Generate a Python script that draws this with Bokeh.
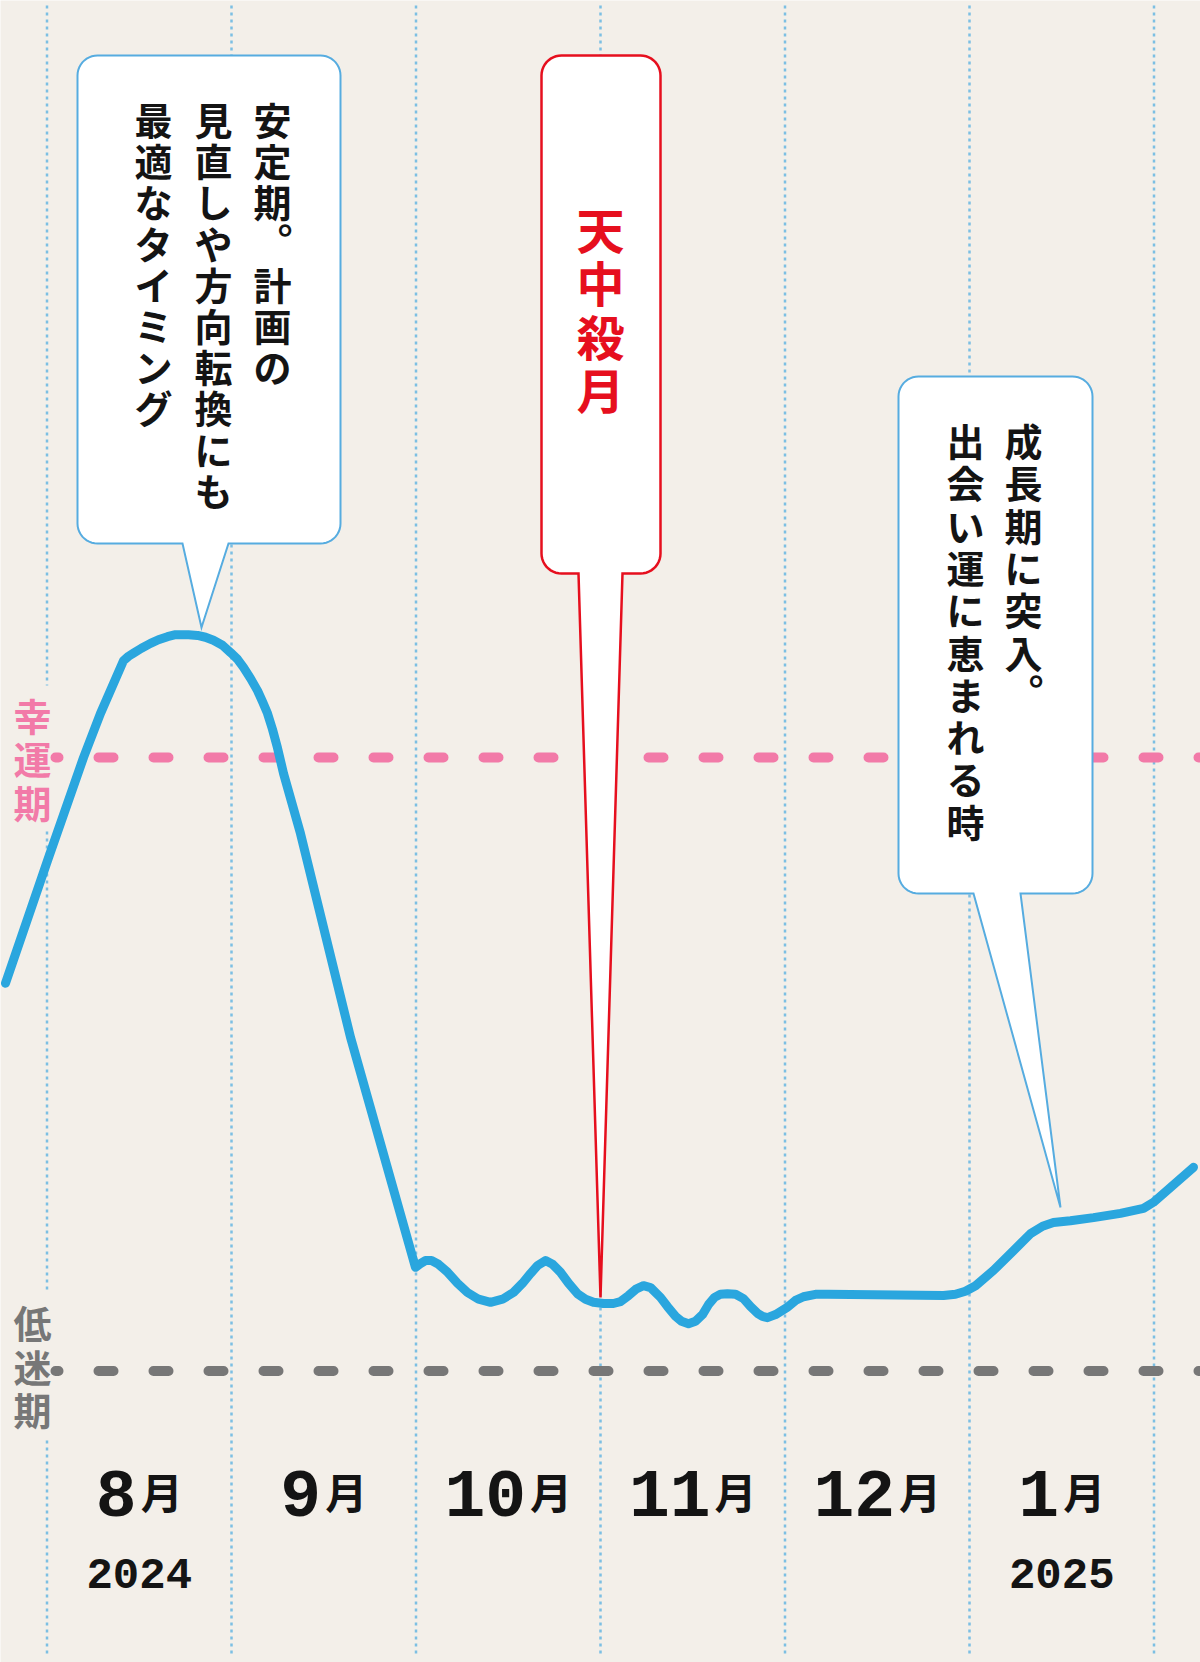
import numpy as np
from bokeh.plotting import figure
from bokeh.models import Range1d
from bokeh.core.properties import value
from bokeh.embed import file_html
from bokeh.resources import INLINE

# ---------------- data ----------------
month_numbers = ["8", "9", "10", "11", "12", "1"]
month_suffix = "月"
year_labels = ["2024", "2025"]
year_month_index = [0, 5]

level_names = ["幸運期", "低迷期"]
level_values = [1.0, 0.0]

# fortune curve: x = month position (8月 = 0), y = fortune level (低迷期 = 0, 幸運期 = 1)
fortune_x = [-0.725, -0.497, -0.302, -0.210, -0.085, -0.058, -0.031, 0.012, 0.061, 0.104,
             0.153, 0.191, 0.224, 0.267, 0.316, 0.359, 0.402, 0.451, 0.495, 0.533,
             0.565, 0.603, 0.641, 0.668, 0.695, 0.722, 0.749, 0.782, 0.874, 1.145,
             1.497, 1.524, 1.551, 1.584, 1.622, 1.671, 1.725, 1.779, 1.839, 1.904,
             1.969, 2.028, 2.077, 2.121, 2.159, 2.202, 2.240, 2.283, 2.327, 2.375,
             2.419, 2.462, 2.516, 2.570, 2.608, 2.652, 2.695, 2.733, 2.771, 2.825,
             2.863, 2.907, 2.939, 2.977, 3.015, 3.053, 3.085, 3.118, 3.150, 3.188,
             3.232, 3.275, 3.313, 3.351, 3.378, 3.405, 3.449, 3.514, 3.557, 3.600,
             3.665, 3.730, 4.359, 4.424, 4.478, 4.533, 4.630, 4.738, 4.831, 4.896,
             4.955, 5.047, 5.172, 5.318, 5.443, 5.497, 5.714]
fortune_y = [0.632, 0.832, 1.000, 1.072, 1.158, 1.165, 1.170, 1.178, 1.186, 1.192,
             1.197, 1.200, 1.200, 1.200, 1.199, 1.196, 1.191, 1.183, 1.171, 1.160,
             1.147, 1.129, 1.109, 1.091, 1.072, 1.046, 1.016, 0.974, 0.876, 0.544,
             0.169, 0.175, 0.180, 0.180, 0.174, 0.161, 0.143, 0.128, 0.117, 0.112,
             0.117, 0.128, 0.143, 0.159, 0.172, 0.180, 0.174, 0.161, 0.143, 0.126,
             0.117, 0.112, 0.110, 0.110, 0.113, 0.123, 0.134, 0.139, 0.136, 0.120,
             0.105, 0.089, 0.081, 0.077, 0.081, 0.092, 0.108, 0.120, 0.125, 0.126,
             0.125, 0.118, 0.105, 0.094, 0.089, 0.087, 0.092, 0.104, 0.115, 0.121,
             0.125, 0.125, 0.123, 0.125, 0.130, 0.139, 0.164, 0.196, 0.224, 0.236,
             0.242, 0.245, 0.250, 0.257, 0.265, 0.275, 0.332]

callout_columns = [
    ["安定期。計画の", "見直しや方向転換にも", "最適なタイミング"],
    ["天中殺月"],
    ["成長期に突入。", "出会い運に恵まれる時"],
]

# ---------------- layout (pixels) ----------------
W, H = 1200, 1662
X0, XS = 138.75, 184.5      # pixel of month 0, pixels per month
Y0, YS = 1370.5, 613.5      # pixel of level 0, pixels per level unit


def DX(px):
    return (px - X0) / XS


def DY(py):
    return (Y0 - py) / YS


def PX(x):
    return X0 + XS * x


def PY(y):
    return Y0 - YS * y


BG = "#f3efe9"
BLUE_LINE = "#2aa6de"
DOT_BLUE = "#7cbfe3"
PINK = "#f27aa8"
GRAY = "#777777"
RED = "#e60f1e"
BOX_BLUE = "#56ace0"
INK = "#141414"
JP = value("Noto Sans CJK JP")
MONO = value("Liberation Mono")

p = figure(width=W, height=H, x_range=Range1d(DX(0), DX(W)), y_range=Range1d(DY(H), DY(0)),
           output_backend="svg", toolbar_location=None, x_axis_location=None,
           y_axis_location=None, min_border=0, background_fill_color=BG,
           border_fill_color=BG, outline_line_color=None)
p.grid.visible = False

# vertical dotted month separators
bounds = [m - 0.5 for m in range(len(month_numbers) + 1)]
p.segment(x0=bounds, y0=[DY(5)] * len(bounds), x1=bounds, y1=[DY(1655)] * len(bounds),
          line_color=DOT_BLUE, line_width=2.5, line_dash="3 4")

# background patches behind level labels
label_shift = [0, -6]
for lv, sh in zip(level_values, label_shift):
    c = PY(lv) + sh
    p.quad(left=DX(8), right=DX(52), top=DY(c - 72), bottom=DY(c + 72),
           fill_color=BG, line_color=None)

# dashed level lines
for lv, col in zip(level_values, [PINK, GRAY]):
    p.line(x=[DX(55), DX(W + 10)], y=[lv, lv], line_color=col, line_width=10,
           line_dash="15 40", line_dash_offset=12, line_cap="round")

# level labels (vertical)
for name, lv, sh, col in zip(level_names, level_values, label_shift, [PINK, GRAY]):
    c = PY(lv) + sh
    ys = [DY(c + (i - 1) * 43.5) for i in range(len(name))]
    p.text(x=[DX(32)] * len(name), y=ys, text=list(name), text_font=JP,
           text_font_size="38px", text_font_style="bold", text_color=col,
           text_align="center", text_baseline="middle")

# fortune curve
p.line(fortune_x, fortune_y, line_color=BLUE_LINE, line_width=9,
       line_cap="round", line_join="round")


# callout boxes
def callout(l, t, r, b, rad, bl, br, tip, color, lw):
    pts = []

    def arc(cx, cy, a0, a1):
        for a in np.linspace(a0, a1, 12):
            pts.append((cx + rad * np.cos(np.radians(a)), cy + rad * np.sin(np.radians(a))))

    arc(l + rad, t + rad, 180, 270)
    arc(r - rad, t + rad, 270, 360)
    arc(r - rad, b - rad, 0, 90)
    pts.append((br, b))
    pts.append(tip)
    pts.append((bl, b))
    arc(l + rad, b - rad, 90, 180)
    xs = [DX(q[0]) for q in pts]
    ys = [DY(q[1]) for q in pts]
    p.patch(xs, ys, fill_color="white", line_color=color, line_width=lw,
            line_join="miter")


callout(77, 55, 340, 543, 20, 182, 228, (201, 627), BOX_BLUE, 2)
callout(541, 55, 660, 573, 20, 578, 622, (600, 1297), RED, 2.5)
callout(898, 376, 1092, 893, 20, 973, 1020, (1060, 1207), BOX_BLUE, 2)


def vtext(cols, col_x, y_first, pitch, size, color):
    xs, ys, ts = [], [], []
    fs = float(size)
    for col, cx in zip(cols, col_x):
        for i, ch in enumerate(col):
            cy = y_first + i * pitch
            if ch == "。":
                xs.append(DX(cx + 14 + 0.27 * fs))
                ys.append(DY(cy - 14 - 0.30 * fs))
            else:
                xs.append(DX(cx))
                ys.append(DY(cy))
            ts.append(ch)
    p.text(x=xs, y=ys, text=ts, text_font=JP, text_font_size=f"{size}px",
           text_font_style="bold", text_color=color, text_align="center",
           text_baseline="middle")


vtext(callout_columns[0], [272, 213, 153], 118, 41.2, 38, INK)
vtext(callout_columns[1], [600], 227, 53.5, 48, RED)
vtext(callout_columns[2], [1023, 965], 439, 42.3, 38, INK)

# month labels
DIG = 68
ADV = 0.6 * DIG
SUF = 42
for i, m in enumerate(month_numbers):
    total = len(m) * ADV + 4 + SUF
    left = PX(i) - total / 2
    p.text(x=[DX(left)], y=[DY(1493)], text=[m], text_font=MONO,
           text_font_size=f"{DIG}px", text_font_style="bold", text_color=INK,
           text_align="left", text_baseline="alphabetic")
    p.text(x=[DX(left + len(m) * ADV + 4)], y=[DY(1490)], text=[month_suffix],
           text_font=JP, text_font_size=f"{SUF}px", text_font_style="bold",
           text_color=INK, text_align="left", text_baseline="alphabetic")

# year labels
p.text(x=year_month_index, y=[DY(1573)] * len(year_labels), text=year_labels,
       text_font=MONO, text_font_size="44px", text_font_style="bold",
       text_color=INK, text_align="center", text_baseline="alphabetic")

open("out.html", "w").write(file_html(p, INLINE))
